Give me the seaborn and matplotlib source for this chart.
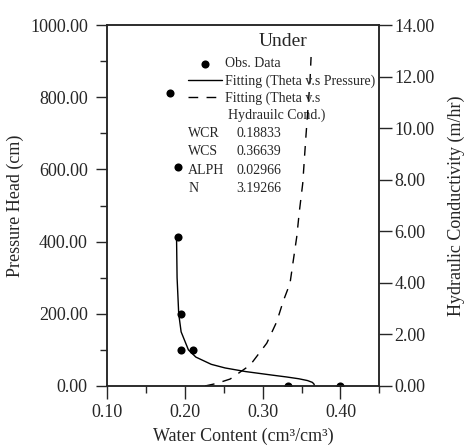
"""
Under 土层：水分特征曲线 + 导水率曲线 (双 y 轴)。
输出：out.png
"""

import matplotlib
matplotlib.use("Agg")
import matplotlib.pyplot as plt
import seaborn as sns
from matplotlib.ticker import MultipleLocator, FormatStrFormatter

# ==========================================
# 数据
# ==========================================
obs_theta = [0.181, 0.191, 0.191, 0.1945, 0.1945, 0.210, 0.332, 0.3995]
obs_h = [812, 608, 412, 200, 100, 100, 0, 0]

# 拟合曲线 Theta vs Pressure
fit_h = [412, 300, 200, 150, 100, 80, 60, 50, 40, 30, 25, 20, 15, 10, 5, 0]
fit_theta = [0.1891, 0.1898, 0.1919, 0.1950, 0.2044, 0.2140, 0.2338, 0.2515,
             0.2778, 0.3126, 0.3307, 0.3465, 0.3577, 0.3639, 0.3661, 0.3664]

# 拟合曲线 Theta vs Hydraulic Cond.
k_theta = [0.2257, 0.2408, 0.2581, 0.2838, 0.3052, 0.3180, 0.3265, 0.3351,
           0.3394, 0.3438, 0.3471, 0.3515, 0.3535, 0.3557, 0.3587, 0.3609, 0.3622]
k_val = [0.0, 0.10, 0.27, 0.81, 1.66, 2.49, 3.30, 3.98,
         4.88, 5.79, 6.76, 7.86, 8.76, 9.73, 10.96, 11.86, 12.76]

params = [("WCR", "0.18833"), ("WCS", "0.36639"),
          ("ALPH", "0.02966"), ("N", "3.19266")]

# ==========================================
# 绘图
# ==========================================
sns.set_style("ticks")
plt.rcParams["font.family"] = ["Liberation Serif", "DejaVu Serif"]
plt.rcParams["axes.linewidth"] = 1.1

fig = plt.figure(figsize=(4.71, 4.45), dpi=100)
ax = fig.add_axes([0.2278, 0.1326, 0.5775, 0.8112])
ax2 = ax.twinx()

sns.scatterplot(x=obs_theta, y=obs_h, ax=ax, color="black", s=34,
                edgecolor="black", linewidth=0, legend=False, zorder=5)
sns.lineplot(x=fit_theta, y=fit_h, ax=ax, sort=False, estimator=None,
             color="black", linewidth=1.0, legend=False)
sns.lineplot(x=k_theta, y=k_val, ax=ax2, sort=False, estimator=None,
             color="black", linewidth=1.0, linestyle=(0, (7, 6)), legend=False)

# 坐标轴
ax.set_xlim(0.10, 0.45)
ax.set_ylim(0, 1000)
ax2.set_ylim(0, 14)

ax.set_xticks([0.10, 0.20, 0.30, 0.40])
ax.xaxis.set_minor_locator(MultipleLocator(0.05))
ax.xaxis.set_major_formatter(FormatStrFormatter("%.2f"))
ax.yaxis.set_major_locator(MultipleLocator(200))
ax.yaxis.set_minor_locator(MultipleLocator(100))
ax.yaxis.set_major_formatter(FormatStrFormatter("%.2f"))
ax2.yaxis.set_major_locator(MultipleLocator(2))
ax2.yaxis.set_major_formatter(FormatStrFormatter("%.2f"))

ax.tick_params(axis="y", which="major", length=8, width=1.0, labelsize=13,
               direction="out", pad=6)
ax.tick_params(axis="x", which="major", length=9, width=1.0, labelsize=13,
               direction="out", pad=4)
ax.tick_params(axis="both", which="minor", length=5, width=1.0, direction="out")
ax2.tick_params(axis="y", which="major", length=9, width=1.0, labelsize=13,
                direction="out", pad=2)

ax.set_xlabel("Water Content (cm³/cm³)", fontsize=13, labelpad=5)
ax.set_ylabel("Pressure Head (cm)", fontsize=13, labelpad=4)
ax2.set_ylabel("Hydraulic Conductivity (m/hr)", fontsize=13, labelpad=9)

for a in (ax, ax2):
    for s in a.spines.values():
        s.set_visible(True)
        s.set_linewidth(1.1)

# 图例
h_obs = ax.collections[0]
h_fit = ax.lines[0]
h_k = ax2.lines[0]
leg = ax2.legend([h_obs, h_fit, h_k],
                 ["Obs. Data", "Fitting (Theta v.s Pressure)", "Fitting (Theta v.s"],
                 fontsize=10, loc="upper left", bbox_to_anchor=(0.297, 0.910),
                 frameon=False, borderpad=0, borderaxespad=0,
                 handlelength=2.45, handletextpad=0.22, labelspacing=0.27)

ax.text(0.647, 0.955, "Under", transform=ax.transAxes,
        fontsize=14, va="center", ha="center")
ax.text(0.442, 0.749, "Hydrauilc Cond.)", transform=ax.transAxes,
        fontsize=10, va="center", ha="left")
for i, (name, val) in enumerate(params):
    y = 0.700 - i * 0.051
    ax.text(0.298, y, name, transform=ax.transAxes, fontsize=10, va="center")
    ax.text(0.474, y, val, transform=ax.transAxes, fontsize=10, va="center")

plt.savefig("out.png", dpi=100)
plt.close()
